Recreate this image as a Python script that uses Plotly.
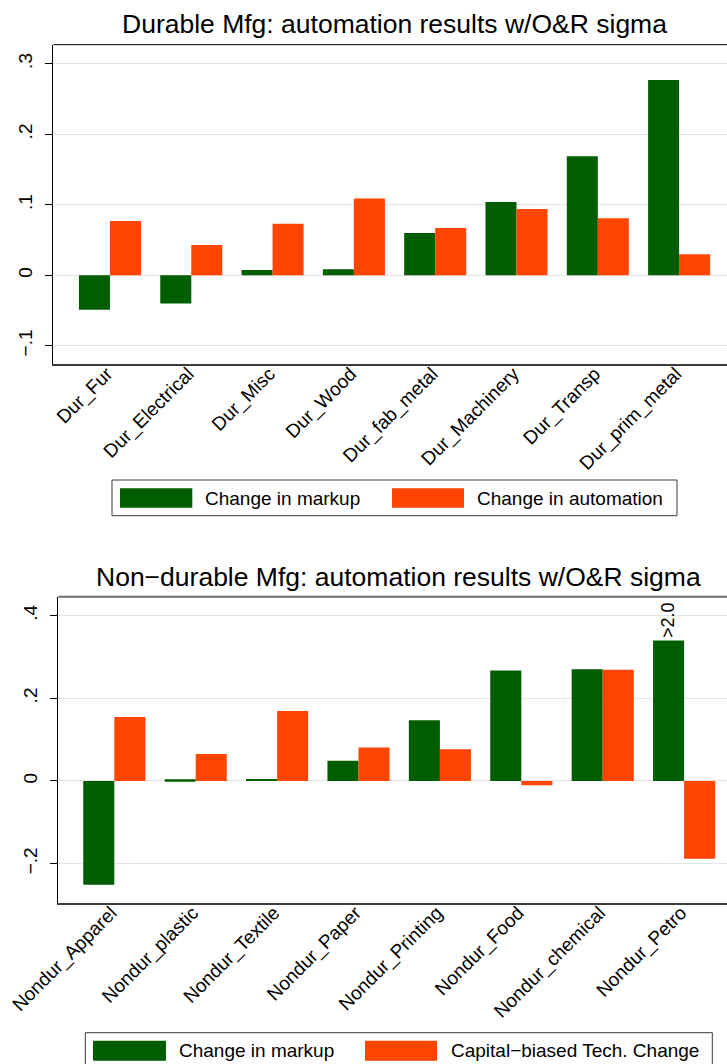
import plotly.graph_objects as go

# ---- data ----
dur_cats = ["Dur_Fur", "Dur_Electrical", "Dur_Misc", "Dur_Wood",
            "Dur_fab_metal", "Dur_Machinery", "Dur_Transp", "Dur_prim_metal"]
dur_markup = [-0.049, -0.040, 0.0075, 0.0085, 0.060, 0.104, 0.169, 0.277]
dur_automation = [0.077, 0.043, 0.073, 0.109, 0.067, 0.094, 0.081, 0.030]

nondur_cats = ["Nondur_Apparel", "Nondur_plastic", "Nondur_Textile", "Nondur_Paper",
               "Nondur_Printing", "Nondur_Food", "Nondur_chemical", "Nondur_Petro"]
# Petro markup is drawn at the axis cap and flagged as exceeding 2.0
nondur_markup = [-0.251, 0.004, 0.005, 0.049, 0.147, 0.267, 0.270, 0.340]
nondur_cbtc = [0.155, 0.065, 0.169, 0.081, 0.077, -0.0105, 0.269, -0.188]
capped_label = ">2.0"

dur_yticks = [-0.1, 0, 0.1, 0.2, 0.3]
dur_yticktext = ["\u2212.1", "0", ".1", ".2", ".3"]
nondur_yticks = [-0.2, 0, 0.2, 0.4]
nondur_yticktext = ["\u2212.2", "0", ".2", ".4"]

# ---- styling ----
W, H = 727, 1064
GREEN = "#005e00"
ORANGE = "#ff4500"
FONT = "Liberation Sans, Arial, Helvetica, sans-serif"
GRID = "#e4e4e4"


def fx(p):
    return p / W


def fy(p):
    return 1 - p / H


fig = go.Figure()
fig.add_trace(go.Bar(x=dur_cats, y=dur_markup, marker_color=GREEN,
                     marker_line_width=0, name="Change in markup",
                     xaxis="x", yaxis="y", showlegend=False))
fig.add_trace(go.Bar(x=dur_cats, y=dur_automation, marker_color=ORANGE,
                     marker_line_width=0, name="Change in automation",
                     xaxis="x", yaxis="y", showlegend=False))
fig.add_trace(go.Bar(x=nondur_cats, y=nondur_markup, marker_color=GREEN,
                     marker_line_width=0, name="Change in markup",
                     xaxis="x2", yaxis="y2", showlegend=False))
fig.add_trace(go.Bar(x=nondur_cats, y=nondur_cbtc, marker_color=ORANGE,
                     marker_line_width=0, name="Capital\u2212biased Tech. Change",
                     xaxis="x2", yaxis="y2", showlegend=False))

xcommon = dict(type="category", tickangle=-45, ticks="", showline=True,
               linecolor="#3c3c3c", linewidth=2, showgrid=False, zeroline=False,
               automargin=False, ticklabelstandoff=-11, ticklabelshift=-3,
               tickfont=dict(size=19, color="black", family=FONT))
ycommon = dict(tickangle=-90, ticks="outside", ticklen=7, tickwidth=1,
               tickcolor="black", showline=True, linecolor="black", linewidth=1.3,
               showgrid=True, gridcolor=GRID, gridwidth=1.3, zeroline=False,
               automargin=False, ticklabelstandoff=6,
               tickfont=dict(size=19, color="black", family=FONT))

fig.update_layout(
    template="none",
    width=W, height=H,
    margin=dict(l=0, r=0, t=0, b=0, pad=0),
    paper_bgcolor="white", plot_bgcolor="white",
    barmode="group", bargap=0.237, bargroupgap=0,
    font=dict(family=FONT, color="black"),
    xaxis=dict(domain=[fx(53.3), 1], anchor="y", range=[-0.697, 7.589],
               categoryorder="array", categoryarray=dur_cats, **xcommon),
    yaxis=dict(domain=[fy(364.3), fy(44.7)], anchor="x", range=[-0.1262, 0.3271],
               tickvals=dur_yticks, ticktext=dur_yticktext, **ycommon),
    xaxis2=dict(domain=[fx(58.3), 1], anchor="y2", range=[-0.688, 7.527],
                categoryorder="array", categoryarray=nondur_cats, **xcommon),
    yaxis2=dict(domain=[fy(903.3), fy(596.7)], anchor="x2", range=[-0.2958, 0.4457],
                tickvals=nondur_yticks, ticktext=nondur_yticktext, **ycommon),
)

shapes = [
    # upper frame lines
    dict(type="line", xref="x domain", yref="y domain", x0=0, x1=1, y0=1, y1=1,
         line=dict(color="black", width=1)),
    dict(type="line", xref="x2 domain", yref="y2 domain", x0=0, x1=1, y0=1, y1=1,
         line=dict(color="#6e6e6e", width=2)),
]

annotations = [
    dict(text="Durable Mfg: automation results w/O&R sigma", xref="paper", yref="paper",
         x=fx(394), y=fy(23.5), xanchor="center", yanchor="middle", showarrow=False,
         font=dict(size=26.5, color="black", family=FONT)),
    dict(text="Non\u2212durable Mfg: automation results w/O&R sigma", xref="paper",
         yref="paper", x=fx(398.5), y=fy(577), xanchor="center", yanchor="middle",
         showarrow=False, font=dict(size=26.5, color="black", family=FONT)),
    dict(text=capped_label, xref="x2", yref="y2", x=nondur_cats[-1], y=nondur_markup[-1],
         xshift=-15.6, yshift=1, textangle=-90, xanchor="center", yanchor="bottom",
         showarrow=False, font=dict(size=18, color="black", family=FONT)),
]


def add_legend(box, sw_y, items, text_y):
    x0, x1, y0, y1 = box
    shapes.append(dict(type="rect", xref="paper", yref="paper",
                       x0=fx(x0), x1=fx(x1), y0=fy(y1), y1=fy(y0),
                       line=dict(color="#3a3a3a", width=1), fillcolor="white", layer="below"))
    for (sx0, sx1, color, tx, label) in items:
        shapes.append(dict(type="rect", xref="paper", yref="paper",
                           x0=fx(sx0), x1=fx(sx1), y0=fy(sw_y[1]), y1=fy(sw_y[0]),
                           line=dict(width=0), fillcolor=color))
        annotations.append(dict(text=label, xref="paper", yref="paper", x=fx(tx),
                                y=fy(text_y), xanchor="left", yanchor="middle",
                                showarrow=False,
                                font=dict(size=19, color="black", family=FONT)))


add_legend((112, 677, 480, 515.7), (488.3, 507.7),
           [(120, 192.3, GREEN, 203, "Change in markup"),
            (392, 464, ORANGE, 475, "Change in automation")], 498.5)
add_legend((85.3, 712.3, 1032.7, 1080), (1040.7, 1060.7),
           [(93, 166, GREEN, 176.7, "Change in markup"),
            (365, 437, ORANGE, 449, "Capital\u2212biased Tech. Change")], 1050.7)

fig.update_layout(shapes=shapes, annotations=annotations)

fig.write_html("out.html")
